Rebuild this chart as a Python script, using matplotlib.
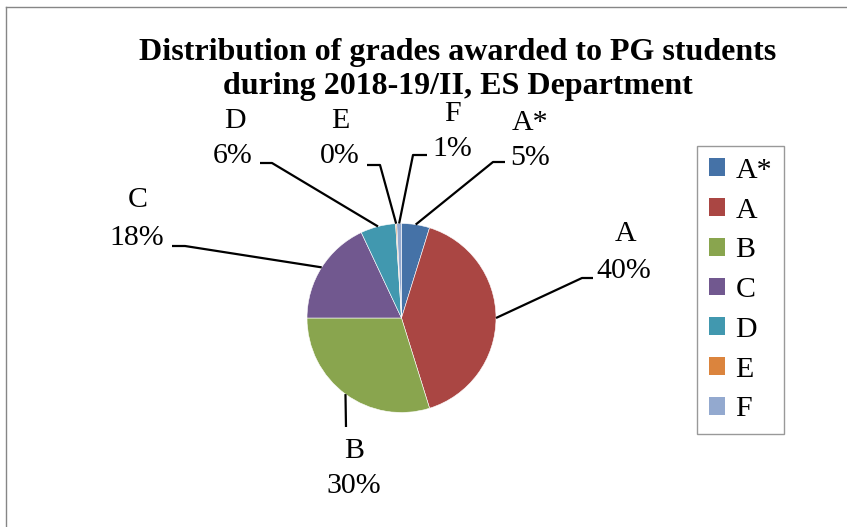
import numpy as np
import matplotlib
matplotlib.use("Agg")
import matplotlib.pyplot as plt
from matplotlib.patches import Patch

grades = ["A*", "A", "B", "C", "D", "E", "F"]
share = [4.8, 40.4, 29.8, 18.0, 6.0, 0.2, 0.8]
colors = ["#4572A7", "#AA4643", "#89A54E", "#71588F", "#4198AF", "#DB843D", "#93A9CF"]

W, H = 847, 527
plt.rcParams["font.family"] = ["Liberation Serif", "DejaVu Serif"]

fig = plt.figure(figsize=(W / 100, H / 100), dpi=100)
ax = fig.add_axes([0, 0, 1, 1])

# work in pixel units, y measured from the top
def py(y):
    return H - y

cx, cy, r = 401.5, 318, 94.5
wedges, _ = ax.pie(share, colors=colors, startangle=90, counterclock=False,
                   radius=r, center=(cx, py(cy)),
                   wedgeprops=dict(edgecolor="white", linewidth=0.4))
ax.set_xlim(0, W)
ax.set_ylim(0, H)
ax.set_aspect("equal")
ax.axis("off")

# label name / percent positions and leader line bends (x, y from top)
name_pos = {"A*": (530, 130), "A": (626, 241), "B": (354, 458), "C": (138, 207),
            "D": (235, 128), "E": (340, 128), "F": (452, 121)}
pct_pos = {"A*": (530, 165), "A": (624, 278), "B": (354, 493), "C": (137, 245),
           "D": (233, 163), "E": (340, 163), "F": (452, 156)}
bends = {"A*": [(493, 162), (505, 162)], "A": [(582, 278), (593, 278)],
         "B": [(346, 427)], "C": [(185, 246), (172, 246)],
         "D": [(272, 163), (260, 163)], "E": [(380, 165), (367, 165)],
         "F": [(413, 155), (427, 155)]}

total = sum(share)
fs = 21.5
for w, g, v in zip(wedges, grades, share):
    mid = np.deg2rad((w.theta1 + w.theta2) / 2)
    x0 = cx + r * np.cos(mid)
    y0 = py(cy) + r * np.sin(mid)
    xs = [x0] + [p[0] for p in bends[g]]
    ys = [y0] + [py(p[1]) for p in bends[g]]
    ax.plot(xs, ys, color="black", lw=1.6, solid_capstyle="butt")
    nx, ny = name_pos[g]
    ax.text(nx, py(ny), g, ha="center", va="baseline", fontsize=fs)
    px, pyy = pct_pos[g]
    ax.text(px, py(pyy), "%d%%" % round(v / total * 100), ha="center",
            va="baseline", fontsize=fs)

ax.text(458, py(60), "Distribution of grades awarded to PG students",
        ha="center", va="baseline", fontsize=23, fontweight="bold")
ax.text(458, py(94), "during 2018-19/II, ES Department",
        ha="center", va="baseline", fontsize=23, fontweight="bold")

handles = [Patch(facecolor=c, edgecolor="none") for c in colors]
leg = ax.legend(handles, grades, loc="upper left",
                bbox_to_anchor=(697 / W, 1 - 146 / H), borderaxespad=0,
                fontsize=fs, frameon=True, fancybox=False,
                handlelength=0.54, handleheight=0.54, handletextpad=0.35,
                labelspacing=0.46, borderpad=0.4)
leg.get_frame().set_edgecolor("#808080")
leg.get_frame().set_linewidth(1.0)

# outer chart border, only left and top edges show
ax.plot([6, 6], [0, py(7)], color="#868686", lw=1)
ax.plot([6, W], [py(7), py(7)], color="#868686", lw=1)

fig.savefig("out.png", dpi=100)
